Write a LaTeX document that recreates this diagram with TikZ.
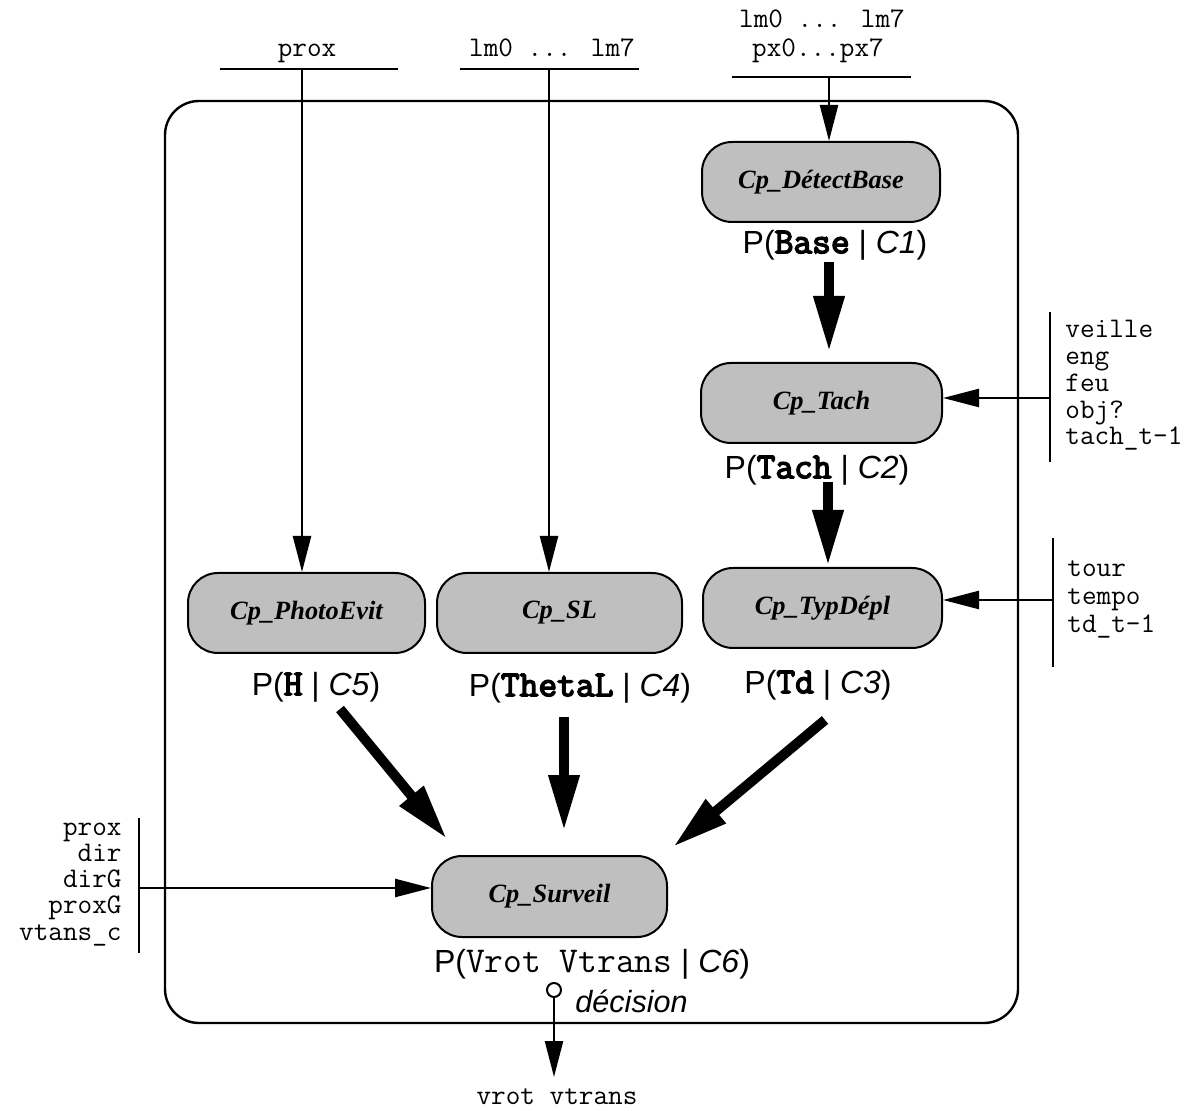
\documentclass[tikz,border=0pt]{standalone}
\usepackage{fontspec}
\setmainfont{Liberation Serif}
\newfontfamily\helv{Liberation Sans}
\newfontfamily\boldmono[FakeBold=4]{Latin Modern Mono}
\usepackage{tikz}
\usetikzlibrary{arrows.meta, positioning, calc}

\begin{document}
\begin{tikzpicture}[x=0.5pt, y=-0.5pt,
    module/.style={draw, line width=1pt, fill=gray!50, rounded corners=15pt,
        minimum height=40pt, font=\fontsize{13.2}{15}\selectfont\bfseries\itshape},
    prob/.style={inner sep=0pt, font=\fontsize{16}{19}\selectfont\helv},
    vars/.style={inner sep=0pt, font=\fontsize{14.2}{15}\selectfont\ttfamily},
    bar/.style={line width=1.2pt},
    inarrow/.style={line width=1.2pt, -{Triangle[length=18pt, width=9pt]}},
    fatarrow/.style={line width=5pt, -{Triangle[length=28pt, width=14.5pt]}}]
    \useasboundingbox (0,0) rectangle (1199,1111);

    % Outer frame
    \draw[line width=1.2pt, rounded corners=17pt] (165,101) rectangle (1018,1023);

    % Modules
    \node[module, minimum width=119pt] (detect) at (821,182) {Cp\_DétectBase};
    \node[module, minimum width=120.5pt] (tach) at (821.5,403) {Cp\_Tach};
    \node[module, minimum width=119.5pt] (typdep) at (822.5,608) {Cp\_TypDépl};
    \node[module, minimum width=118.5pt] (photo) at (306.5,613) {Cp\_PhotoEvit};
    \node[module, minimum width=122.5pt] (sl) at (559.5,613) {Cp\_SL};
    \node[module, minimum width=117.5pt, minimum height=40.5pt] (surv) at (549.5,896.5) {Cp\_Surveil};

    % Distributions
    \node[prob] (pBase) at (835,245) {P({\fontsize{18.2}{19}\boldmono\bfseries Base} | \textit{C1})};
    \node[prob] (pTach) at (817,470) {P({\fontsize{18.2}{19}\boldmono\bfseries Tach} | \textit{C2})};
    \node[prob] (pTd) at (818,685) {P({\fontsize{18.2}{19}\boldmono\bfseries Td} | \textit{C3})};
    \node[prob] (pTheta) at (580,688) {P({\fontsize{18.2}{19}\boldmono\bfseries ThetaL} | \textit{C4})};
    \node[prob] (pH) at (316,687) {P({\fontsize{18.2}{19}\boldmono\bfseries H} | \textit{C5})};
    \node[prob] (pSurv) at (592,964) {P({\fontsize{18.2}{19}\selectfont\ttfamily Vrot Vtrans} | \textit{C6})};

    % Fat arrows
    \draw[fatarrow] ($(pBase)+(-6,17)$) -- ($(tach.north)+(7.5,-10)$);
    \draw[fatarrow] ($(pTach)+(11,12)$) -- ($(typdep.north)+(5.5,-1)$);
    \draw[fatarrow] ($(pH)+(24,22)$) -- ($(surv.north west)+(16,-16)$);
    \draw[fatarrow] ($(pTheta)+(-16,29)$) -- ($(surv.north)+(14.5,-24)$);
    \draw[fatarrow] ($(pTd)+(7,35)$) -- ($(surv.north east)+(5,-8)$);

    % Top inputs
    \node[vars, anchor=base] (inProx) at (307,57) {prox};
    \draw[bar] (220,69) -- (398,69);
    \coordinate (proxIn) at (302,69);
    \draw[inarrow] (proxIn) -- (proxIn |- photo.north);

    \node[vars, anchor=base] (inLm) at (552,57) {lm0 ... lm7};
    \draw[bar] (460,69) -- (639,69);
    \coordinate (lmIn) at (549,69);
    \draw[inarrow] (lmIn) -- (lmIn |- sl.north);

    \node[vars, anchor=base] (inLmTop) at (822,28) {lm0 ... lm7};
    \node[vars, anchor=base] (inPx) at (818,57) {px0...px7};
    \draw[bar] (732,77) -- (911,77);
    \coordinate (detIn) at (829,77);
    \draw[inarrow] (detIn) -- (detIn |- detect.north);

    % Side inputs
    \foreach \v [count=\i] in {veille,eng,feu,obj?,tach\_t-1}
        \node[vars, anchor=base west] (tachVar\i) at (1065,{338+26.75*(\i-1)}) {\v};
    \draw[bar] (1050,312) -- (1050,462);
    \coordinate (tachIn) at (1050,398);
    \draw[inarrow] (tachIn) -- (tachIn -| tach.east);

    \foreach \v [count=\i] in {tour,tempo,td\_t-1}
        \node[vars, anchor=base west] (typVar\i) at (1067,{577+28*(\i-1)}) {\v};
    \draw[bar] (1053,538) -- (1053,667);
    \coordinate (typIn) at (1053,600);
    \draw[inarrow] (typIn) -- (typIn -| typdep.east);

    \foreach \v [count=\i] in {prox,dir,dirG,proxG,vtans\_c}
        \node[vars, anchor=base east] (survVar\i) at (122,{835+26.3*(\i-1)}) {\v};
    \draw[bar] (139,818) -- (139,953);
    \coordinate (survIn) at (139,888);
    \draw[inarrow] (survIn) -- (survIn -| surv.west);

    % Decision output
    \node[draw, circle, line width=1pt, inner sep=0pt, minimum size=7pt, fill=white] (decPt) at (554,990) {};
    \coordinate (decOut) at (554,1077);
    \draw[inarrow] (decPt) -- (decOut);
    \node[anchor=base west, inner sep=0pt, font=\fontsize{15.3}{18}\selectfont\helv\itshape] (decTxt) at (575,1012) {décision};
    \node[vars, anchor=base] (outVars) at (557,1104) {vrot vtrans};
\end{tikzpicture}
\end{document}
